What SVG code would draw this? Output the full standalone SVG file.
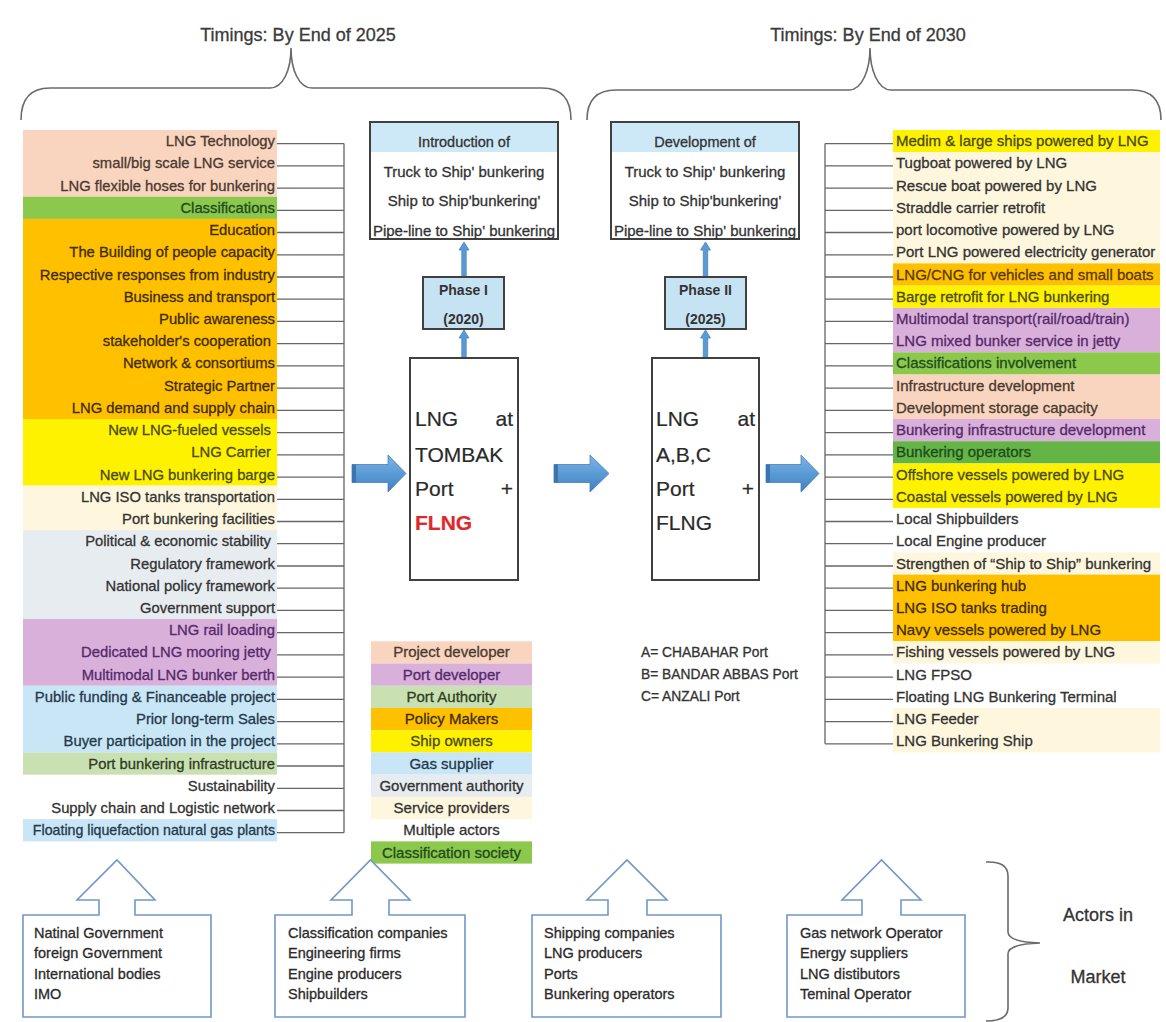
<svg xmlns="http://www.w3.org/2000/svg" width="1166" height="1022" viewBox="0 0 1166 1022">
  <style>
    text { font-family: "Liberation Sans", Arial, sans-serif; fill: #333; stroke: #333; stroke-width: 0.3px; }
    .l { font-size: 14.8px; text-anchor: end; }
    .l.narrow { font-size: 14.2px; }
    .r { font-size: 15px; }
    .c { text-anchor: middle; }
    .title { font-size: 18px; text-anchor: middle; fill: #3a3a3a; stroke: #3a3a3a; }
    .box { fill: #fff; stroke: #404040; stroke-width: 2; }
    .hdr { fill: #cde8f7; }
    .phase { fill: #c6e3f4; stroke: #404040; stroke-width: 2; }
    .pt { font-size: 14px; font-weight: bold; text-anchor: middle; stroke-width: 0; }
    .big { font-size: 21px; fill: #2a2a2a; stroke: #2a2a2a; stroke-width: 0.2px; }
    .wire { stroke: #666; stroke-width: 1.3; fill: none; }
    .brace { stroke: #6a6a6a; stroke-width: 1.6; fill: none; }
    .up { fill: #5b9bd5; stroke: #4a84bd; stroke-width: 0.8; }
    .blk { fill: url(#blue); stroke: #4a7fb8; stroke-width: 0.8; }
    .actor { fill: #fff; stroke: #6f98c8; stroke-width: 1.6; }
    .at { font-size: 14.5px; fill: #2b2b2b; stroke: #2b2b2b; }
    .leg { font-size: 15px; text-anchor: middle; }
    .peach { fill: #f9d4be; } .green { fill: #8cc84b; } .dgreen { fill: #64b446; }
    .orange { fill: #ffc000; } .yellow { fill: #fff200; } .cream { fill: #fef7de; }
    .grey { fill: #e7ecf1; } .lav { fill: #d8b0da; } .lblue { fill: #c8e6f6; }
    .lgreen { fill: #c9e0b3; }
    .tpeach { fill: #4a3a30; stroke: #4a3a30; } .tgreen { fill: #1e4a1e; stroke: #1e4a1e; }
    .torange { fill: #3f2c00; stroke: #3f2c00; } .tcng { fill: #5a3800; stroke: #5a3800; }
    .tyellow { fill: #4a4a14; stroke: #4a4a14; } .tlav { fill: #55296a; stroke: #55296a; }
    .tblue { fill: #25384a; stroke: #25384a; } .tlgreen { fill: #2e3d20; stroke: #2e3d20; }
    .tred { fill: #e0282c; stroke: #e0282c; }
  </style>
  <defs>
    <linearGradient id="blue" x1="0" y1="0" x2="0" y2="1">
      <stop offset="0" stop-color="#7db4e6"/>
      <stop offset="0.5" stop-color="#5b9bd5"/>
      <stop offset="1" stop-color="#3f7fc0"/>
    </linearGradient>
  </defs>

  <rect width="1166" height="1022" fill="#fff"/>

  <!-- timing headers and braces -->
  <g id="timing-2025">
    <text class="title" x="298" y="41">Timings: By End of 2025</text>
    <path class="brace" d="M21,120 C21,100 30,88 50,88 L270,88 C283,88 291,70 291,48 C291,70 299,88 312,88 L542,88 C562,88 571,100 571,120"/>
  </g>
  <g id="timing-2030">
    <text class="title" x="868" y="41">Timings: By End of 2030</text>
    <path class="brace" d="M587,120 C587,101 596,90 616,90 L849,90 C862,90 870,70 870,48 C870,70 878,90 891,90 L1132,90 C1152,90 1161,101 1161,120"/>
  </g>

  <!-- colour bands, left column -->
  <g id="left-bands">
    <rect class="peach" x="23" y="130" width="254" height="66.69"/>
    <rect class="green" x="23" y="196.69" width="254" height="22.23"/>
    <rect class="orange" x="23" y="218.92" width="254" height="200.07"/>
    <rect class="yellow" x="23" y="418.99" width="254" height="66.69"/>
    <rect class="cream" x="23" y="485.68" width="254" height="44.46"/>
    <rect class="grey" x="23" y="530.14" width="254" height="88.92"/>
    <rect class="lav" x="23" y="619.06" width="254" height="66.69"/>
    <rect class="lblue" x="23" y="685.75" width="254" height="66.69"/>
    <rect class="lgreen" x="23" y="752.44" width="254" height="22.23"/>
    <rect class="lblue" x="23" y="819.13" width="254" height="22.23"/>
  </g>

  <!-- colour bands, right column -->
  <g id="right-bands">
    <rect class="yellow" x="893" y="130" width="267" height="22.23"/>
    <rect class="cream" x="893" y="152.23" width="267" height="111.15"/>
    <rect class="orange" x="893" y="263.38" width="267" height="22.23"/>
    <rect class="yellow" x="893" y="285.61" width="267" height="22.23"/>
    <rect class="lav" x="893" y="307.84" width="267" height="44.46"/>
    <rect class="green" x="893" y="352.30" width="267" height="22.23"/>
    <rect class="peach" x="893" y="374.53" width="267" height="44.46"/>
    <rect class="lav" x="893" y="418.99" width="267" height="22.23"/>
    <rect class="dgreen" x="893" y="441.22" width="267" height="22.23"/>
    <rect class="yellow" x="893" y="463.45" width="267" height="44.46"/>
    <rect class="cream" x="893" y="552.37" width="267" height="22.23"/>
    <rect class="orange" x="893" y="574.60" width="267" height="66.69"/>
    <rect class="cream" x="893" y="641.29" width="267" height="22.23"/>
    <rect class="cream" x="893" y="707.98" width="267" height="44.46"/>
  </g>

  <!-- connectors -->
  <g id="connectors">
    <path class="wire" d="M344,143.6 V832.7 M277,143.6 H344 M277,165.8 H344 M277,188.1 H344 M277,210.3 H344 M277,232.5 H344 M277,254.8 H344 M277,277 H344 M277,299.2 H344 M277,321.4 H344 M277,343.7 H344 M277,365.9 H344 M277,388.1 H344 M277,410.4 H344 M277,432.6 H344 M277,454.8 H344 M277,477.1 H344 M277,499.3 H344 M277,521.5 H344 M277,543.7 H344 M277,566 H344 M277,588.2 H344 M277,610.4 H344 M277,632.7 H344 M277,654.9 H344 M277,677.1 H344 M277,699.4 H344 M277,721.6 H344 M277,743.8 H344 M277,766 H344 M277,788.3 H344 M277,810.5 H344 M277,832.7 H344"/>
    <path class="wire" d="M825,143.6 V743.8 M825,143.6 H893 M825,165.8 H893 M825,188.1 H893 M825,210.3 H893 M825,232.5 H893 M825,254.8 H893 M825,277 H893 M825,299.2 H893 M825,321.4 H893 M825,343.7 H893 M825,365.9 H893 M825,388.1 H893 M825,410.4 H893 M825,432.6 H893 M825,454.8 H893 M825,477.1 H893 M825,499.3 H893 M825,521.5 H893 M825,543.7 H893 M825,566 H893 M825,588.2 H893 M825,610.4 H893 M825,632.7 H893 M825,654.9 H893 M825,677.1 H893 M825,699.4 H893 M825,721.6 H893 M825,743.8 H893"/>
    <!-- small up arrows -->
    <path class="up" d="M461.8,277 V250 H459 L464,242 L469,250 H466.2 V277 Z"/>
    <path class="up" d="M461.8,358 V338 H459 L464,330 L469,338 H466.2 V358 Z"/>
    <path class="up" d="M703.3,277 V250 H700.5 L705.5,242 L710.5,250 H707.7 V277 Z"/>
    <path class="up" d="M703.3,358 V338 H700.5 L705.5,330 L710.5,338 H707.7 V358 Z"/>
    <!-- block arrows -->
    <path class="blk" d="M352,464.5 H388 V455 L406,473.5 L388,492 V482.5 H352 Z"/>
    <path class="blk" d="M554,464.5 H590 V455 L609,473.5 L590,492 V482.5 H554 Z"/>
    <path class="blk" d="M766,464.5 H801 V455 L819,473.5 L801,492 V482.5 H766 Z"/>
    <rect x="352" y="464.5" width="4" height="18" fill="#3c74b2"/>
    <rect x="554" y="464.5" width="4" height="18" fill="#3c74b2"/>
    <rect x="766" y="464.5" width="4" height="18" fill="#3c74b2"/>
  </g>

  <!-- left column items -->
  <g id="left-items">
    <text class="l tpeach" x="275" y="146.1">LNG Technology</text>
    <text class="l tpeach" x="275" y="168.3">small/big scale LNG service</text>
    <text class="l tpeach" x="275" y="190.6">LNG flexible hoses for bunkering</text>
    <text class="l tgreen" x="275" y="212.8">Classifications</text>
    <text class="l torange" x="275" y="235">Education</text>
    <text class="l torange" x="275" y="257.3">The Building of people capacity</text>
    <text class="l torange" x="275" y="279.5">Respective responses from industry</text>
    <text class="l torange" x="275" y="301.7">Business and transport</text>
    <text class="l torange" x="275" y="323.9">Public awareness</text>
    <text class="l torange" x="271" y="346.2">stakeholder's cooperation</text>
    <text class="l torange" x="275" y="368.4">Network &amp; consortiums</text>
    <text class="l torange" x="275" y="390.6">Strategic Partner</text>
    <text class="l torange" x="275" y="412.9">LNG demand and supply chain</text>
    <text class="l tyellow" x="271" y="435.1">New LNG-fueled vessels</text>
    <text class="l tyellow" x="271" y="457.3">LNG Carrier</text>
    <text class="l tyellow" x="275" y="479.6">New LNG bunkering barge</text>
    <text class="l" x="275" y="501.8">LNG ISO tanks transportation</text>
    <text class="l" x="275" y="524">Port bunkering facilities</text>
    <text class="l" x="271" y="546.2">Political &amp; economic stability</text>
    <text class="l" x="275" y="568.5">Regulatory framework</text>
    <text class="l" x="275" y="590.7">National policy framework</text>
    <text class="l" x="275" y="612.9">Government support</text>
    <text class="l tlav" x="275" y="635.2">LNG rail loading</text>
    <text class="l tlav" x="271" y="657.4">Dedicated LNG mooring jetty</text>
    <text class="l tlav" x="275" y="679.6">Multimodal LNG bunker berth</text>
    <text class="l tblue" x="275" y="701.9">Public funding &amp; Financeable project</text>
    <text class="l tblue" x="275" y="724.1">Prior long-term Sales</text>
    <text class="l tblue" x="275" y="746.3">Buyer participation in the project</text>
    <text class="l tlgreen" x="275" y="768.5">Port bunkering infrastructure</text>
    <text class="l" x="275" y="790.8">Sustainability</text>
    <text class="l" x="275" y="813">Supply chain and Logistic network</text>
    <text class="l narrow tblue" x="275" y="835.2">Floating liquefaction natural gas plants</text>
  </g>

  <!-- right column items -->
  <g id="right-items">
    <text class="r tyellow" x="896" y="146.1">Medim &amp; large ships powered by LNG</text>
    <text class="r" x="896" y="168.3">Tugboat powered by LNG</text>
    <text class="r" x="896" y="190.6">Rescue boat powered by LNG</text>
    <text class="r" x="896" y="212.8">Straddle carrier retrofit</text>
    <text class="r" x="896" y="235">port locomotive powered by LNG</text>
    <text class="r" x="896" y="257.3">Port LNG powered electricity generator</text>
    <text class="r tcng" x="896" y="279.5">LNG/CNG for vehicles and small boats</text>
    <text class="r tyellow" x="896" y="301.7">Barge retrofit for LNG bunkering</text>
    <text class="r tlav" x="896" y="323.9">Multimodal transport(rail/road/train)</text>
    <text class="r tlav" x="896" y="346.2">LNG mixed bunker service in jetty</text>
    <text class="r tgreen" x="896" y="368.4">Classifications involvement</text>
    <text class="r tpeach" x="896" y="390.6">Infrastructure development</text>
    <text class="r tpeach" x="896" y="412.9">Development storage capacity</text>
    <text class="r tlav" x="896" y="435.1">Bunkering infrastructure development</text>
    <text class="r tgreen" x="896" y="457.3">Bunkering operators</text>
    <text class="r tyellow" x="896" y="479.6">Offshore vessels powered by LNG</text>
    <text class="r tyellow" x="896" y="501.8">Coastal vessels powered by LNG</text>
    <text class="r" x="896" y="524">Local Shipbuilders</text>
    <text class="r" x="896" y="546.2">Local Engine producer</text>
    <text class="r" x="896" y="568.5">Strengthen of “Ship to Ship” bunkering</text>
    <text class="r torange" x="896" y="590.7">LNG bunkering hub</text>
    <text class="r torange" x="896" y="612.9">LNG ISO tanks trading</text>
    <text class="r torange" x="896" y="635.2">Navy vessels powered by LNG</text>
    <text class="r" x="896" y="657.4">Fishing vessels powered by LNG</text>
    <text class="r" x="896" y="679.6">LNG FPSO</text>
    <text class="r" x="896" y="701.9">Floating LNG Bunkering Terminal</text>
    <text class="r" x="896" y="724.1">LNG Feeder</text>
    <text class="r" x="896" y="746.3">LNG Bunkering Ship</text>
  </g>

  <!-- phase I chain -->
  <g id="intro-box">
    <rect class="box" x="370" y="122" width="188" height="117"/>
    <rect class="hdr" x="371" y="123" width="186" height="29"/>
    <text class="c" x="464" y="147" font-size="14.5">Introduction of</text>
    <text class="c" x="464" y="176.5" font-size="15">Truck to Ship' bunkering</text>
    <text class="c" x="464" y="206" font-size="15">Ship to Ship'bunkering'</text>
    <text class="c" x="464" y="235.5" font-size="15">Pipe-line to Ship' bunkering</text>
  </g>
  <g id="phase-1">
    <rect class="phase" x="423" y="277" width="81" height="52"/>
    <text class="pt" x="463.5" y="294.5">Phase I</text>
    <text class="pt" x="463.5" y="324">(2020)</text>
  </g>
  <g id="tombak">
    <rect class="box" x="410" y="358" width="108" height="222"/>
    <text class="big" x="415" y="426">LNG</text>
    <text class="big" x="513" y="426" text-anchor="end">at</text>
    <text class="big" x="415" y="462">TOMBAK</text>
    <text class="big" x="415" y="496">Port</text>
    <text class="big" x="513" y="496" text-anchor="end">+</text>
    <text class="big tred" x="415" y="530" font-weight="bold">FLNG</text>
  </g>

  <!-- phase II chain -->
  <g id="dev-box">
    <rect class="box" x="611" y="122" width="188" height="117"/>
    <rect class="hdr" x="612" y="123" width="186" height="29"/>
    <text class="c" x="705" y="147" font-size="14.5">Development of</text>
    <text class="c" x="705" y="176.5" font-size="15">Truck to Ship' bunkering</text>
    <text class="c" x="705" y="206" font-size="15">Ship to Ship'bunkering'</text>
    <text class="c" x="705" y="235.5" font-size="15">Pipe-line to Ship' bunkering</text>
  </g>
  <g id="phase-2">
    <rect class="phase" x="665" y="277" width="81" height="52"/>
    <text class="pt" x="705.5" y="294.5">Phase II</text>
    <text class="pt" x="705.5" y="324">(2025)</text>
  </g>
  <g id="abc-ports">
    <rect class="box" x="652" y="358" width="107" height="222"/>
    <text class="big" x="656" y="426">LNG</text>
    <text class="big" x="755" y="426" text-anchor="end">at</text>
    <text class="big" x="656" y="462">A,B,C</text>
    <text class="big" x="656" y="496">Port</text>
    <text class="big" x="754" y="496" text-anchor="end">+</text>
    <text class="big" x="656" y="530">FLNG</text>
  </g>

  <!-- port key -->
  <g id="port-key" font-size="13.8">
    <text x="641" y="657">A= CHABAHAR Port</text>
    <text x="641" y="679">B= BANDAR ABBAS Port</text>
    <text x="641" y="701">C= ANZALI Port</text>
  </g>

  <!-- actor colour legend -->
  <g id="legend">
    <rect class="peach" x="371" y="641.29" width="161" height="22.23"/>
    <rect class="lav" x="371" y="663.52" width="161" height="22.23"/>
    <rect class="lgreen" x="371" y="685.75" width="161" height="22.23"/>
    <rect class="orange" x="371" y="707.98" width="161" height="22.23"/>
    <rect class="yellow" x="371" y="730.21" width="161" height="22.23"/>
    <rect class="lblue" x="371" y="752.44" width="161" height="22.23"/>
    <rect class="grey" x="371" y="774.67" width="161" height="22.23"/>
    <rect class="cream" x="371" y="796.90" width="161" height="22.23"/>
    <rect class="green" x="371" y="841.36" width="161" height="22.23"/>
    <text class="leg tpeach" x="451.5" y="657.4">Project developer</text>
    <text class="leg tlav" x="451.5" y="679.6">Port developer</text>
    <text class="leg tlgreen" x="451.5" y="701.9">Port Authority</text>
    <text class="leg torange" x="451.5" y="724.1">Policy Makers</text>
    <text class="leg tyellow" x="451.5" y="746.3">Ship owners</text>
    <text class="leg tblue" x="451.5" y="768.5">Gas supplier</text>
    <text class="leg" x="451.5" y="790.8">Government authority</text>
    <text class="leg" x="451.5" y="813">Service providers</text>
    <text class="leg" x="451.5" y="835.2">Multiple actors</text>
    <text class="leg tgreen" x="451.5" y="857.5">Classification society</text>
  </g>

  <!-- market actor groups -->
  <g id="actors-gov">
    <path class="actor" d="M23,915 H99 V900 H77 L117,860 L155,900 H135 V915 H211 V1017 H23 Z"/>
    <text class="at" x="34" y="938">Natinal Government</text>
    <text class="at" x="34" y="958">foreign Government</text>
    <text class="at" x="34" y="978.5">International bodies</text>
    <text class="at" x="34" y="999">IMO</text>
  </g>
  <g id="actors-class">
    <path class="actor" d="M275,915 H352 V900 H331 L370.5,860 L410,900 H389 V915 H465 V1017 H275 Z"/>
    <text class="at" x="288" y="938">Classification companies</text>
    <text class="at" x="288" y="958">Engineering firms</text>
    <text class="at" x="288" y="978.5">Engine producers</text>
    <text class="at" x="288" y="999">Shipbuilders</text>
  </g>
  <g id="actors-ship">
    <path class="actor" d="M532,915 H608 V900 H587 L627,860 L667,900 H647 V915 H721 V1017 H532 Z"/>
    <text class="at" x="544" y="938">Shipping companies</text>
    <text class="at" x="544" y="958">LNG producers</text>
    <text class="at" x="544" y="978.5">Ports</text>
    <text class="at" x="544" y="999">Bunkering operators</text>
  </g>
  <g id="actors-gas">
    <path class="actor" d="M787,915 H862 V900 H842 L881.5,860 L921,900 H901 V915 H965 V1017 H787 Z"/>
    <text class="at" x="800" y="938">Gas network Operator</text>
    <text class="at" x="800" y="958">Energy suppliers</text>
    <text class="at" x="800" y="978.5">LNG distibutors</text>
    <text class="at" x="800" y="999">Teminal Operator</text>
  </g>
  <g id="actors-market">
    <path class="brace" d="M986,862 Q1008,861 1008,876 V932 Q1008,942 1040,943 Q1008,944 1008,954 V1008 Q1008,1021 986,1021"/>
    <text x="1098" y="921" font-size="18" text-anchor="middle">Actors in</text>
    <text x="1098" y="983" font-size="18" text-anchor="middle">Market</text>
  </g>
</svg>
